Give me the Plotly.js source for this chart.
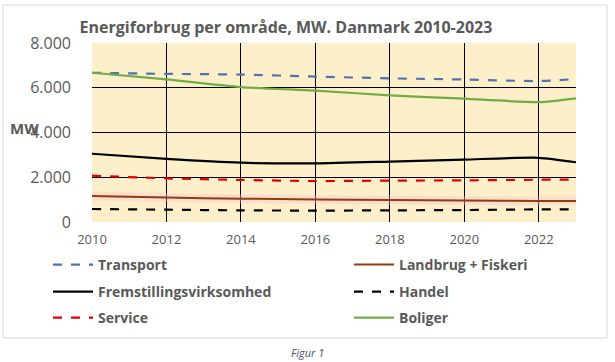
<!DOCTYPE html>
<html>
<head>
<meta charset="utf-8">
<script src="https://cdn.plot.ly/plotly-3.0.1.min.js"></script>
<style>html,body{margin:0;padding:0;background:#fff;}#chart{width:615px;height:362px;}</style>
</head>
<body>
<div id="chart"></div>
<script>
const years = [2010, 2012, 2014, 2016, 2018, 2020, 2022, 2023];
const transport = [6670, 6620, 6590, 6500, 6420, 6370, 6300, 6390];
const landbrug = [1160, 1090, 1040, 1010, 980, 965, 940, 940];
const fremstilling = [3050, 2820, 2650, 2620, 2700, 2790, 2870, 2670];
const handel = [580, 550, 520, 510, 520, 535, 565, 565];
const service = [2070, 1950, 1880, 1830, 1850, 1860, 1890, 1890];
const boliger = [6670, 6370, 6030, 5870, 5660, 5510, 5360, 5530];
const yTicks = [0, 2000, 4000, 6000, 8000];
const yTickText = ['0', '2.000', '4.000', '6.000', '8.000'];
const xTicks = [2010, 2012, 2014, 2016, 2018, 2020, 2022];

const gray = '#595959';
const font = 'Open Sans, Noto Sans, sans-serif';

function tr(name, y, color, dash, width, leg) {
  return {x: years, y: y, name: name, type: 'scatter', mode: 'lines', legend: leg,
    line: {color: color, dash: dash, width: width, shape: 'spline', smoothing: 0.6},
    hoverinfo: 'skip'};
}

const glow = {x: years, y: landbrug, type: 'scatter', mode: 'lines', showlegend: false,
  line: {color: 'rgba(255,190,200,0.35)', width: 9, shape: 'spline', smoothing: 0.6}, hoverinfo: 'skip'};

const data = [
  glow,
  tr('Transport', transport, '#4F74B0', 'dash', 2.2, 'legend'),
  tr('Landbrug + Fiskeri', landbrug, '#8B3E14', 'solid', 2, 'legend2'),
  tr('Fremstillingsvirksomhed', fremstilling, '#000000', 'solid', 2.2, 'legend3'),
  tr('Handel', handel, '#000000', 'dash', 2.2, 'legend4'),
  tr('Service', service, '#E00000', 'dash', 2.2, 'legend5'),
  tr('Boliger', boliger, '#70AD47', 'solid', 2.2, 'legend6')
];

const L = 92, R = 576, T = 43, B = 222;
const pw = R - L, ph = B - T;
function px(x) { return (x - L) / pw; }
function py(y) { return (B - y) / ph; }

const legFont = {size: 14, color: gray, family: font, weight: 'bold'};
function leg(x, y) {
  return {orientation: 'h', xref: 'container', yref: 'container', x: x / 615, y: 1 - y / 362,
    xanchor: 'left', yanchor: 'middle', font: legFont, bgcolor: 'rgba(0,0,0,0)', itemwidth: 40};
}

const layout = {
  width: 615, height: 362,
  margin: {l: L, r: 615 - R, t: T, b: 362 - B, pad: 0},
  paper_bgcolor: '#ffffff',
  plot_bgcolor: '#FEEFCB',
  font: {family: font, color: gray},
  title: {text: '<b>Energiforbrug per område, MW. Danmark 2010-2023</b>',
    font: {size: 16, color: gray, family: font}, x: 0.465, xanchor: 'center', y: 1 - 27/362, yanchor: 'middle'},
  xaxis: {range: [2010, 2023], tickvals: xTicks, ticktext: xTicks.map(String),
    showgrid: true, gridcolor: '#000000', gridwidth: 1, zeroline: false, showline: false,
    ticks: '', tickfont: {size: 13, color: gray}, ticklabelstandoff: 8, fixedrange: true},
  yaxis: {range: [0, 8000], tickvals: yTicks, ticktext: yTickText,
    showgrid: true, gridcolor: '#000000', gridwidth: 1, zeroline: false, showline: false,
    ticks: '', tickfont: {size: 16, color: gray}, ticklabelstandoff: 20, fixedrange: true},
  legend: leg(48, 265),
  legend2: leg(349, 265),
  legend3: leg(48, 292),
  legend4: leg(349, 292),
  legend5: leg(48, 318),
  legend6: leg(349, 318),
  showlegend: true,
  shapes: [
    {type: 'rect', xref: 'paper', yref: 'paper', x0: px(3), x1: px(607), y0: py(338), y1: py(5),
      line: {color: '#D9D9D9', width: 1}, fillcolor: 'rgba(0,0,0,0)', layer: 'below'}
  ],
  annotations: [
    {text: '<b>MW</b>', xref: 'paper', yref: 'paper', x: px(24), y: py(128), showarrow: false,
      font: {size: 15, color: gray, family: font}, xanchor: 'center', yanchor: 'middle'},
    {text: '<i>Figur 1</i>', xref: 'paper', yref: 'paper', x: px(307), y: py(352), showarrow: false,
      font: {size: 11, color: '#44546A', family: font}, xanchor: 'center', yanchor: 'middle'}
  ]
};

Plotly.newPlot('chart', data, layout, {displayModeBar: false, staticPlot: true});
</script>
</body>
</html>
